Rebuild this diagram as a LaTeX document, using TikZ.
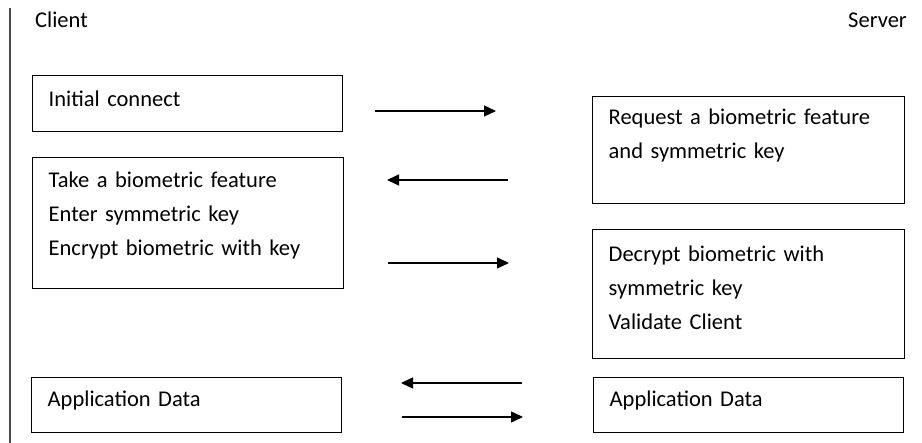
\documentclass[tikz,border=0pt]{standalone}
\usepackage{fontspec}
\setmainfont{Carlito}
\usetikzlibrary{arrows.meta}
\tikzset{
  txt/.style={font=\fontsize{22.5}{34}\selectfont},
  lbl/.style={txt, inner sep=0pt},
  box/.style={txt, draw, line width=1.4pt, anchor=north west, align=left, inner xsep=16pt},
  lift/.style={text depth=#1},
  msg/.style={line width=1.4pt, -{Triangle[length=12pt,width=11pt]}}
}
\begin{document}
\begin{tikzpicture}[x=1pt,y=-1pt]
  \useasboundingbox (0,0) rectangle (922,443);
  \draw[line width=1.6pt, black!70] (10,8) -- (10,443);
  \node[lbl, anchor=west] (client) at (35,20) {Client};
  \node[lbl, anchor=east] (server) at (907,20) {Server};
  \node[box, lift=10pt, minimum width=310pt, text width=278pt, minimum height=56pt] (init) at (32,75) {Initial connect};
  \node[box, lift=87pt, minimum width=311pt, text width=279pt, minimum height=131pt] (take) at (32,157) {Take a biometric feature\\Enter symmetric key\\Encrypt biometric with key};
  \node[box, lift=13pt, minimum width=310pt, text width=278pt, minimum height=55pt] (appc) at (31,377) {Application Data};
  \node[box, lift=67pt, minimum width=312pt, text width=280pt, minimum height=107pt] (req) at (592,96) {Request a biometric feature\\and symmetric key};
  \node[box, lift=82pt, minimum width=312pt, text width=280pt, minimum height=129pt] (dec) at (592,229) {Decrypt biometric with\\symmetric key\\Validate Client};
  \node[box, lift=13pt, minimum width=310pt, text width=278pt, minimum height=55pt] (apps) at (593,377) {Application Data};
  \coordinate (m1a) at (375,111); \coordinate (m1b) at (496,111);
  \coordinate (m2a) at (508,180); \coordinate (m2b) at (387,180);
  \coordinate (m3a) at (388,263); \coordinate (m3b) at (509,263);
  \coordinate (m4a) at (522,383); \coordinate (m4b) at (401,383);
  \coordinate (m5a) at (402,417); \coordinate (m5b) at (523,417);
  \draw[msg] (m1a) -- (m1b);
  \draw[msg] (m2a) -- (m2b);
  \draw[msg] (m3a) -- (m3b);
  \draw[msg] (m4a) -- (m4b);
  \draw[msg] (m5a) -- (m5b);
\end{tikzpicture}
\end{document}
